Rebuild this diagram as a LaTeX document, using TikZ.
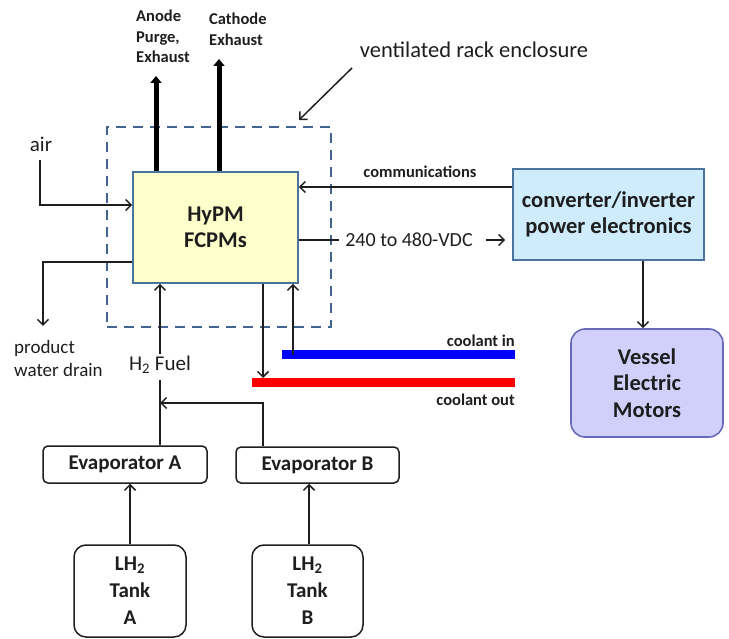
\documentclass[tikz,border=0pt]{standalone}
\usepackage{fontspec}
\setmainfont{Carlito}
\usetikzlibrary{arrows.meta,calc}
\definecolor{hyfill}{RGB}{255,255,204}
\definecolor{hyedge}{RGB}{75,115,160}
\definecolor{cvfill}{RGB}{206,236,252}
\definecolor{mofill}{RGB}{208,208,250}
\definecolor{moedge}{RGB}{105,105,185}
\definecolor{encl}{RGB}{65,100,145}
\definecolor{txt}{RGB}{30,30,30}
\tikzset{
  fs/.style={font=\fontsize{#1}{#1}\selectfont},
  blockbox/.style={draw=hyedge, line width=1.6pt, align=center, text=txt, inner sep=0pt},
  roundbox/.style={draw=txt, line width=1.5pt, rounded corners=#1, align=center, text=txt, inner sep=0pt, font=\bfseries\fontsize{21}{26}\selectfont},
  arr/.style={draw=txt, line width=1.5pt, -{Straight Barb[length=5.5pt,width=11pt,line width=1.5pt]}},
  plain/.style={draw=txt, line width=1.5pt},
  thickarr/.style={draw=black, line width=5pt, -{Triangle[length=7pt,width=11pt]}},
  lbl/.style={text=txt, inner sep=0pt},
}
\begin{document}
\begin{tikzpicture}[x=1pt,y=-1pt]
\useasboundingbox (0,0) rectangle (729,639);

% enclosure
\node[draw=encl, dash pattern=on 10pt off 7pt, line width=1.8pt, minimum width=224pt, minimum height=200pt, inner sep=0pt] (enc) at (219,227) {};

% main boxes
\node[blockbox, fill=hyfill, minimum width=165pt, minimum height=111pt, font=\bfseries\fontsize{22.5}{26}\selectfont] (hypm) at (215.5,227.5) {HyPM\\FCPMs};
\node[blockbox, fill=cvfill, minimum width=191pt, minimum height=91pt, font=\bfseries\fontsize{22.5}{26}\selectfont] (conv) at (608.5,214.5) {converter/inverter\\power electronics};
\node[draw=moedge, fill=mofill, line width=1.6pt, rounded corners=14pt, align=center, inner sep=0pt, text=txt, minimum width=152pt, minimum height=108pt, font=\bfseries\fontsize{22.5}{26.5}\selectfont] (motors) at (647,383) {Vessel\\Electric\\Motors};

\node[roundbox=5pt, minimum width=164pt, minimum height=37pt] (evapA) at (125,464.5) {Evaporator A};
\node[roundbox=5pt, minimum width=163pt, minimum height=36pt] (evapB) at (317.5,465) {Evaporator B};
\node[roundbox=12pt, minimum width=112pt, minimum height=92pt, font=\bfseries\fontsize{21}{27}\selectfont] (tankA) at (130,591) {LH\textsubscript{2}\\Tank\\A};
\node[roundbox=12pt, minimum width=111pt, minimum height=92pt, font=\bfseries\fontsize{21}{27}\selectfont] (tankB) at (307.5,591) {LH\textsubscript{2}\\Tank\\B};

% labels
\node[lbl, anchor=north west, align=left, font=\bfseries\fontsize{16.5}{20.5}\selectfont] (anodeT) at (136,10) {Anode\\Purge,\\Exhaust};
\node[lbl, anchor=north west, align=left, font=\bfseries\fontsize{16.5}{20.5}\selectfont] (cathT) at (209,13) {Cathode\\Exhaust};
\node[lbl, fs=22.5] (ventT) at (474,50) {ventilated rack enclosure};
\node[lbl, fs=21] (airT) at (41,144) {air};
\node[lbl, anchor=north west, align=left, font=\fontsize{19}{23}\selectfont] (drainT) at (14,340) {product\\water drain};
\node[lbl, font=\bfseries\fontsize{16.5}{16}\selectfont] (commT) at (420,172) {communications};
\node[lbl, fs=20] (vdc) at (409,240) {240 to 480-VDC};
\node[lbl, anchor=east, font=\bfseries\fontsize{16.5}{16}\selectfont] (cinT) at (515,341) {coolant in};
\node[lbl, anchor=east, font=\bfseries\fontsize{16.5}{16}\selectfont] (coutT) at (515,400) {coolant out};
\node[lbl, fs=21] (h2) at (160,365) {H\textsubscript{2} Fuel};

% coordinates
\coordinate (anodeEnd) at (156,76);
\coordinate (cathEnd) at (219,59);
\coordinate (airTop) at (40,160);
\coordinate (drainEnd) at (43,326);
\coordinate (ventFrom) at (352,68);
\coordinate (ventTo) at (299,120);
\coordinate (cinL) at (282,355);
\coordinate (cinR) at (515,355);
\coordinate (coutL) at (252,382);
\coordinate (coutR) at (515,382);
\coordinate (join) at (160,403);

% exhausts
\draw[thickarr] (hypm.north -| anodeEnd) -- (anodeEnd);
\draw[thickarr] (hypm.north -| cathEnd) -- (cathEnd);

% enclosure pointer
\draw[arr] (ventFrom) -- (ventTo);

% air and drain
\draw[arr] (airTop) -- (airTop |- 0,205) -- (hypm.west |- 0,205);
\draw[arr] (hypm.west |- 0,262) -- (drainEnd |- 0,262) -- (drainEnd);

% communications and power
\draw[arr] (conv.west |- 0,187) -- (hypm.east |- 0,187);
\draw[plain] (hypm.east |- vdc) -- ($(vdc.west)+(-6,0)$);
\draw[arr] ($(vdc.east)+(13,0)$) -- ($(conv.west |- vdc)+(-7,0)$);
\draw[arr] (conv.south -| 643,0) -- (motors.north -| 643,0);

% coolant
\draw[blue, line width=9pt] (cinL) -- (cinR);
\draw[red, line width=9pt] (coutL) -- (coutR);
\draw[arr] (hypm.south -| 263,0) -- (263,378);
\draw[arr] (293,355) -- (hypm.south -| 293,0);

% fuel
\draw[arr] (h2.north) ++(0,-2) -- (hypm.south -| h2);
\draw[plain] (evapA.north -| h2) -- ($(h2.south)+(0,6)$);
\draw[arr] (evapB.north -| 263,0) -- (263,403) -- (join);
\draw[arr] (tankA.north -| 130,0) -- (evapA.south -| 130,0);
\draw[arr] (tankB.north -| 309,0) -- (evapB.south -| 309,0);
\end{tikzpicture}
\end{document}
